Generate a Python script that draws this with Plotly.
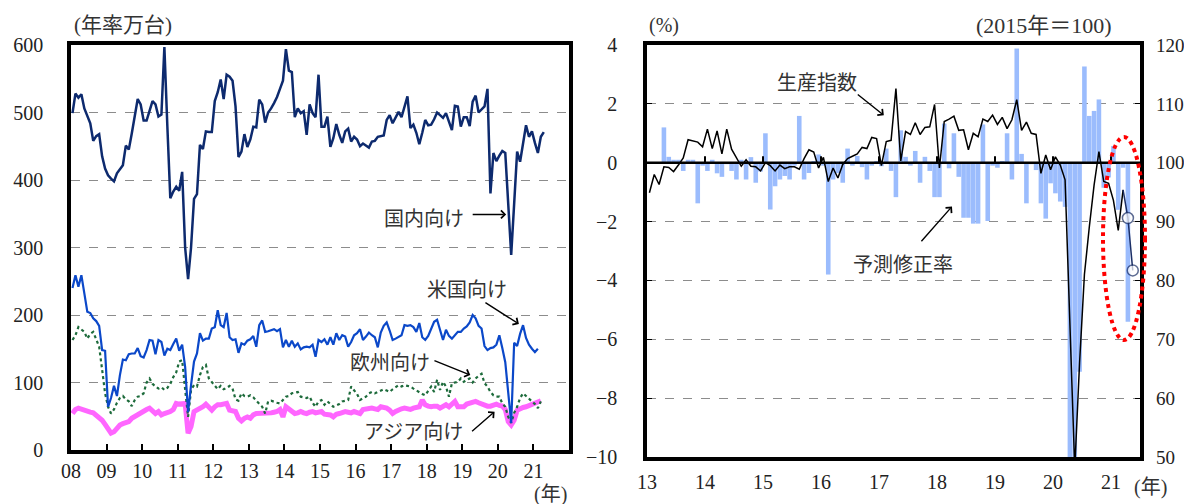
import plotly.graph_objects as go

# 左図: 仕向け地別の自動車生産（年率万台）, 2008年1月から月次
domestic = [499, 528, 522, 527, 506, 495, 484, 458, 465, 468, 435, 417, 407, 402, 398, 410,
            416, 422, 451, 445, 469, 495, 520, 512, 488, 488, 503, 517, 512, 494, 497, 597,
            480, 373, 383, 390, 384, 412, 300, 253, 300, 372, 379, 452, 446, 472, 471, 471,
            517, 530, 549, 520, 556, 553, 547, 509, 434, 442, 468, 449, 460, 479, 478, 519,
            512, 485, 500, 506, 514, 523, 535, 547, 594, 562, 560, 493, 506, 499, 502, 467,
            512, 499, 493, 556, 479, 479, 494, 449, 462, 483, 467, 455, 472, 476, 457, 464,
            460, 450, 454, 451, 448, 457, 458, 464, 465, 466, 489, 496, 484, 492, 501, 493,
            508, 524, 477, 482, 470, 453, 470, 489, 481, 482, 490, 500, 496, 492, 499, 485,
            474, 510, 509, 479, 493, 493, 480, 516, 525, 500, 505, 509, 535, 380, 440, 428,
            436, 443, 440, 370, 289, 365, 442, 427, 455, 481, 464, 472, 455, 440, 464, 471]
us = [240, 259, 242, 259, 232, 205, 203, 195, 191, 184, 148, 147, 64, 77, 95, 80,
      111, 134, 133, 142, 143, 143, 151, 139, 137, 148, 163, 162, 142, 163, 160, 140,
      150, 148, 157, 165, 147, 156, 123, 56, 96, 131, 143, 173, 162, 165, 165, 180,
      182, 207, 185, 182, 203, 167, 163, 164, 144, 158, 156, 162, 164, 169, 153, 185,
      192, 175, 176, 178, 179, 176, 179, 152, 163, 153, 162, 153, 158, 149, 152, 153,
      152, 156, 138, 163, 160, 164, 156, 167, 156, 173, 163, 170, 168, 153, 160, 170,
      173, 179, 163, 168, 174, 170, 167, 152, 174, 184, 189, 177, 163, 165, 168, 170,
      185, 184, 185, 182, 175, 188, 167, 163, 169, 180, 190, 193, 179, 163, 178, 169,
      165, 170, 175, 175, 180, 183, 189, 200, 195, 184, 180, 154, 148, 151, 152, 156,
      170, 151, 130, 85, 40, 159, 154, 172, 185, 166, 156, 150, 145, 150]
europe = [163, 170, 182, 178, 175, 165, 172, 175, 165, 153, 119, 84, 64, 54, 60, 70,
          77, 80, 75, 72, 65, 74, 79, 80, 84, 100, 106, 98, 94, 91, 93, 89,
          92, 98, 108, 115, 131, 133, 90, 49, 89, 96, 94, 111, 123, 126, 106, 101,
          96, 90, 95, 90, 92, 95, 91, 75, 73, 84, 80, 79, 81, 78, 73, 68,
          64, 54, 72, 73, 71, 70, 69, 74, 79, 80, 84, 85, 86, 79, 78, 77,
          79, 70, 64, 72, 74, 67, 72, 68, 64, 66, 68, 72, 73, 74, 94, 88,
          83, 74, 77, 79, 84, 86, 84, 86, 89, 90, 88, 86, 90, 93, 96, 94,
          96, 95, 94, 91, 88, 86, 83, 81, 88, 94, 86, 104, 89, 101, 94, 79,
          99, 100, 101, 106, 101, 104, 106, 100, 106, 110, 113, 99, 94, 86, 81, 79,
          79, 69, 64, 49, 40, 55, 64, 77, 84, 80, 76, 72, 68, 62, 72]
asia = [54, 60, 62, 60, 58, 57, 56, 55, 52, 49, 44, 38, 32, 25, 27, 32,
        37, 39, 40, 42, 47, 50, 52, 55, 57, 60, 62, 59, 54, 57, 52, 54,
        55, 57, 60, 69, 68, 68, 69, 25, 35, 57, 59, 62, 64, 68, 62, 59,
        64, 67, 67, 68, 69, 59, 58, 57, 47, 43, 47, 49, 47, 52, 54, 54,
        54, 54, 54, 55, 56, 57, 60, 49, 64, 60, 57, 54, 55, 57, 55, 54,
        56, 57, 55, 56, 57, 53, 52, 52, 49, 53, 54, 55, 57, 56, 55, 57,
        56, 54, 60, 61, 62, 62, 61, 60, 64, 63, 62, 59, 54, 57, 60, 61,
        62, 61, 60, 62, 63, 64, 74, 67, 65, 64, 65, 65, 62, 64, 67, 64,
        68, 72, 64, 64, 64, 68, 69, 70, 72, 70, 68, 65, 65, 65, 66, 68,
        66, 65, 60, 42, 37, 44, 59, 62, 63, 64, 66, 68, 69, 71, 73]
left_years = ['08', '09', '10', '11', '12', '13', '14', '15', '16', '17', '18', '19', '20', '21']

# 右図: 予測修正率(%) と 生産指数(2015年=100), 2013年1月から月次
revision = [0.0, 0.0, 0.0, 1.2, 0.2, 0.1, 0.1, -0.28, 0.1, 0.1, -1.38, -0.1,
            -0.28, 0.1, -0.36, -0.48, -0.05, -0.28, -0.57, 0.1, -0.57, 0.19, -0.68, -0.3,
            1.0, -1.59, -0.8, -0.57, -0.45, -0.57, -0.1, 1.59, -0.57, -0.35, 0.05, 0.28,
            -0.1, -3.8, -0.57, -0.35, -0.68, 0.48, -0.1, 0.23, -0.15, -0.57, -0.1, 0.05,
            -0.12, 0.48, -0.28, -1.17, 1.1, 0.2, -0.1, 0.4, -0.68, 0.2, -0.28, -1.17,
            -1.17, 1.33, -0.19, 1.0, -0.48, -1.87, -1.87, -2.07, -2.07, 1.3, -1.98, -0.1,
            -0.17, 0.05, 1.0, -0.57, 3.88, 0.3, -1.38, -0.05, -0.25, -1.38, -1.9, -0.7,
            -1.04, -1.32, -1.5, -10.5, -10.5, -7.1, 3.27, 1.59, 1.76, 2.15, -0.85, -0.5,
            0.57, -1.6, -0.17, -5.4]
production = [94.9, 98.0, 96.3, 99.3, 99.2, 98.5, 99.6, 100.8, 103.9, 103.7, 103.5, 102.7,
              105.7, 102.4, 105.4, 101.5, 105.7, 102.3, 100.9, 99.4, 100.5, 99.4, 99.3, 98.6,
              100.0, 99.5, 98.6, 99.6, 99.0, 99.3, 99.3, 98.9, 100.7, 102.2, 101.8, 99.1,
              100.9, 96.8, 99.1, 97.4, 99.7, 100.7, 101.1, 101.5, 102.6, 102.4, 104.3, 104.1,
              99.5, 103.6, 103.8, 112.6, 100.3, 105.3, 104.8, 106.8, 104.8, 106.0, 106.1, 109.9,
              99.1, 107.0, 107.4, 107.9, 105.5, 105.6, 102.2, 105.0, 104.4, 107.4, 107.0, 108.1,
              106.5, 107.7, 105.8, 107.3, 110.7, 105.5, 106.9, 105.0, 104.8, 98.2, 101.3, 98.8,
              101.0, 99.6, 97.1, 74.0, 48.0, 66.0, 81.0, 89.0, 96.2, 101.9, 96.8, 96.5,
              93.6, 88.5, 95.4]
forecast = [95.4, 90.6, 81.7]
right_years = ['13', '14', '15', '16', '17', '18', '19', '20', '21']

NUM = 'Liberation Serif, Noto Sans CJK JP'

# ページ本体の余白(8px)を差し引いた描画サイズ
W, H, PAD = 1184, 496, 8
def px(x):
    return (x - PAD) / W
def py(y):
    return 1 - (y - PAD) / H

fig = go.Figure()

# 左図
fig.add_trace(go.Scatter(x=[i + 0.5 for i in range(len(asia))], y=asia, mode='lines',
                         line=dict(color='#ff66ff', width=5), xaxis='x', yaxis='y'))
fig.add_trace(go.Scatter(x=[i + 0.5 for i in range(len(europe))], y=europe, mode='lines',
                         line=dict(color='#1d6b3b', width=2.2, dash='dot'), xaxis='x', yaxis='y'))
fig.add_trace(go.Scatter(x=[i + 0.5 for i in range(len(us))], y=us, mode='lines',
                         line=dict(color='#0b48c9', width=2.2), xaxis='x', yaxis='y'))
fig.add_trace(go.Scatter(x=[i + 0.5 for i in range(len(domestic))], y=domestic, mode='lines',
                         line=dict(color='#0d2a6e', width=2.5), xaxis='x', yaxis='y'))

# 右図
fig.add_trace(go.Bar(x=[i + 0.5 for i in range(len(revision))], y=revision,
                     marker=dict(color='#9bbcfd', line=dict(width=0)), xaxis='x2', yaxis='y2'))
fig.add_trace(go.Scatter(x=[i + 0.5 for i in range(len(production))], y=production, mode='lines',
                         line=dict(color='black', width=1.5), xaxis='x2', yaxis='y3'))
n = len(production) - 1
fig.add_trace(go.Scatter(x=[n + k + 0.5 for k in range(len(forecast))], y=forecast,
                         mode='lines+markers', line=dict(color='#1b2f66', width=1.5),
                         marker=dict(size=[0, 11, 11], color='white',
                                     line=dict(color='#1b2f66', width=1.5)),
                         xaxis='x2', yaxis='y3'))

frame = dict(showline=True, linecolor='black', linewidth=3.5, mirror=True, zeroline=False,
             automargin=False)
grid = dict(showgrid=True, gridcolor='#8c8c8c', gridwidth=1.3, griddash='dash')

fig.update_layout(
    width=W, height=H, margin=dict(l=0, r=0, t=0, b=0),
    plot_bgcolor='white', paper_bgcolor='white', showlegend=False, bargap=0.05,
    font=dict(family=NUM, size=20, color='#222'),
    xaxis=dict(domain=[px(71), px(569)], range=[0, 168], anchor='y',
               tickvals=[12 * i for i in range(len(left_years))], ticktext=left_years,
               ticks='inside', ticklen=6, tickwidth=2, tickcolor='black',
               ticklabelstandoff=0, showgrid=False, **frame),
    yaxis=dict(domain=[py(450), py(45)], range=[0, 600], dtick=100, anchor='x',
               ticks='', ticklabelstandoff=20, **grid, **frame),
    xaxis2=dict(domain=[px(647), px(1140)], range=[0, 102], anchor='y2',
                tickvals=[12 * i for i in range(len(right_years))], ticktext=right_years,
                ticks='', ticklabelstandoff=4, showgrid=False, **frame),
    yaxis2=dict(domain=[py(457), py(45)], range=[-10, 4], dtick=2, anchor='x2',
                ticks='inside', ticklen=5, tickcolor='black', ticklabelstandoff=22,
                **grid, **frame),
    yaxis3=dict(overlaying='y2', side='right', range=[50, 120], dtick=10, anchor='x2',
                ticks='inside', ticklen=5, tickcolor='black', ticklabelstandoff=15,
                tickfont=dict(size=19),
                showgrid=False, zeroline=False, showline=False, automargin=False),
)

shapes = [dict(type='line', xref='x2 domain', x0=0, x1=1, yref='y2', y0=0, y1=0,
               line=dict(color='black', width=2.5), layer='above')]
for t in range(12, 102, 12):
    shapes.append(dict(type='line', xref='x2', x0=t, x1=t, yref='y2', y0=0, y1=0.22,
                       line=dict(color='black', width=2), layer='above'))
shapes.append(dict(type='circle', xref='paper', yref='paper', x0=px(1103), x1=px(1145),
                   y0=py(340), y1=py(137), line=dict(color='#ff0000', width=4, dash='dot'),
                   layer='above'))
fig.update_layout(shapes=shapes)

ann = []
def label(text, x, y, xref, yref, xanchor='center', size=20):
    ann.append(dict(text=text, x=x, y=y, xref=xref, yref=yref, showarrow=False,
                    xanchor=xanchor, yanchor='middle', font=dict(family=NUM, size=size, color='#333')))

def arrow(x, y, ax, ay, xref, yref):
    ann.append(dict(text='', x=x, y=y, ax=ax, ay=ay, xref=xref, yref=yref, axref=xref, ayref=yref,
                    showarrow=True, arrowhead=4, arrowsize=1.1, arrowwidth=1.4,
                    arrowcolor='black', standoff=0))

label('(年率万台)', px(72), py(25), 'paper', 'paper', 'left', 21)
label('国内向け', 119, 342, 'x', 'y')
label('米国向け', 133.6, 237, 'x', 'y')
label('欧州向け', 107.5, 128.4, 'x', 'y')
label('アジア向け', 115.6, 27, 'x', 'y')
arrow(146.8, 349, 135.0, 349, 'x', 'y')
arrow(151.1, 186.7, 139.3, 219.7, 'x', 'y')
arrow(134.7, 111.1, 122.1, 133.3, 'x', 'y')
arrow(142.9, 56.8, 134.8, 25.7, 'x', 'y')
label('(年)', px(550), py(494), 'paper', 'paper')

label('(%)', px(647), py(26), 'paper', 'paper', 'left')
label('(2015年＝100)', px(1044), py(26), 'paper', 'paper', 'center', 22)
label('生産指数', 35.1, 2.72, 'x2', 'y2')
label('予測修正率', 53.0, -3.46, 'x2', 'y2')
arrow(49.0, 1.61, 43.3, 2.36, 'x2', 'y2')
arrow(63.1, -1.49, 56.5, -2.72, 'x2', 'y2')
label('(年)', px(1150), py(487), 'paper', 'paper')
fig.update_layout(annotations=ann)

fig.write_html('out.html', post_script="document.body.style.overflow='hidden';")
